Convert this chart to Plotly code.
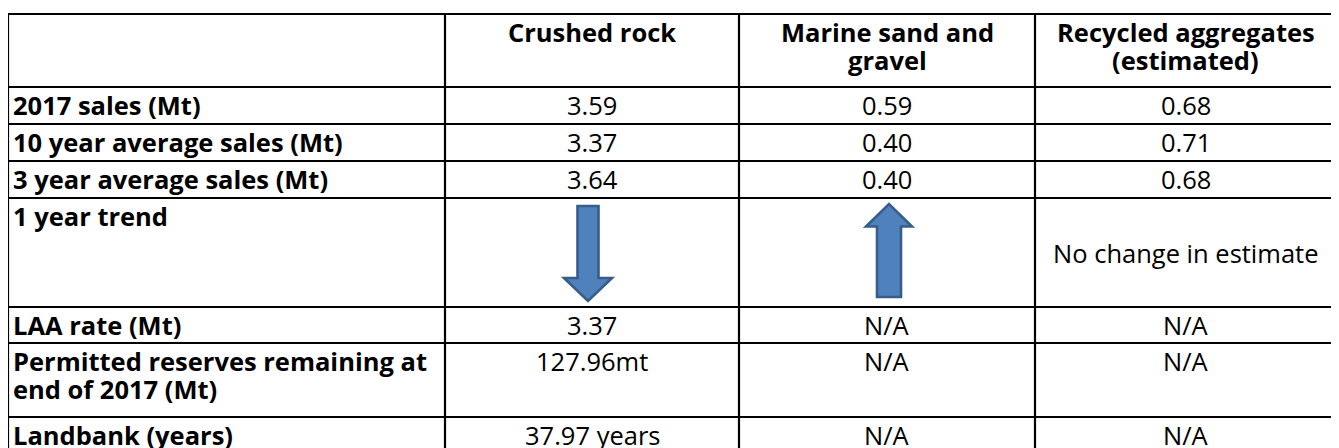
import plotly.graph_objects as go

# ---------------- data ----------------
columns = ["Crushed rock", "Marine sand and<br>gravel", "Recycled aggregates<br>(estimated)"]
row_labels = [
    "2017 sales (Mt)",
    "10 year average sales (Mt)",
    "3 year average sales (Mt)",
    "1 year trend",
    "LAA rate (Mt)",
    "Permitted reserves remaining at<br>end of 2017 (Mt)",
    "Landbank (years)",
]
crushed_rock = ["3.59", "3.37", "3.64", "down", "3.37", "127.96mt", "37.97 years"]
marine_sand_gravel = ["0.59", "0.40", "0.40", "up", "N/A", "N/A", "N/A"]
recycled_aggregates = ["0.68", "0.71", "0.68", "No change in estimate", "N/A", "N/A", "N/A"]

# ---------------- layout constants ----------------
# The page body has an 8px margin, so the figure is offset by 8px;
# axis ranges are expressed in page pixels so that the table lands in place.
PAGE_W, PAGE_H = 1339, 448
OFF = 8
W, H = PAGE_W - OFF, PAGE_H - OFF
col_edges = [8, 445, 739, 1035, 1336]
row_edges = [14, 87, 124, 161, 198, 307, 343, 417, 454]
FONT = "Open Sans, Lato, sans-serif"
FS = 25.5
LINE_GAP = 28
FIRST_OFF = 18
ARROW_FILL = "#4F81BD"
ARROW_LINE = "#385D8A"
GRID = "black"

fig = go.Figure()

shapes = []
for y in row_edges:
    shapes.append(dict(type="line", xref="x", yref="y", x0=col_edges[0] - 1, x1=col_edges[-1] + 1,
                       y0=y, y1=y, line=dict(color=GRID, width=2.2)))
for x in col_edges:
    shapes.append(dict(type="line", xref="x", yref="y", x0=x, x1=x,
                       y0=row_edges[0], y1=row_edges[-1], line=dict(color=GRID, width=2.2)))

annotations = []


def add_text(text, x, y_top, anchor, bold):
    lines = text.split("<br>")
    for i, ln in enumerate(lines):
        annotations.append(dict(
            x=x, y=y_top + FIRST_OFF + i * LINE_GAP, xref="x", yref="y",
            text=f"<b>{ln}</b>" if bold else ln, showarrow=False,
            xanchor=anchor, yanchor="middle", borderpad=0,
            font=dict(family=FONT, size=FS, color="black"),
        ))


def arrow_path(cx, y_start, y_tip, shaft_hw, head_hw, head_len):
    d = 1 if y_tip > y_start else -1
    yb = y_tip - d * head_len
    pts = [
        (cx - shaft_hw, y_start), (cx + shaft_hw, y_start), (cx + shaft_hw, yb),
        (cx + head_hw, yb), (cx, y_tip), (cx - head_hw, yb), (cx - shaft_hw, yb),
    ]
    return "M " + " L ".join(f"{px},{py}" for px, py in pts) + " Z"


col_centers = [(col_edges[i] + col_edges[i + 1]) / 2 for i in range(1, 4)]

for c, name in enumerate(columns):
    add_text(name, col_centers[c], row_edges[0], "center", True)

value_cols = [crushed_rock, marine_sand_gravel, recycled_aggregates]
for r, label in enumerate(row_labels):
    top = row_edges[r + 1]
    bottom = row_edges[r + 2]
    add_text(label, col_edges[0] + 4, top, "left", True)
    for c, vals in enumerate(value_cols):
        v = vals[r]
        cx = col_centers[c]
        if v == "down":
            shapes.append(dict(type="path", xref="x", yref="y",
                               path=arrow_path(cx - 4, top + 8, bottom - 6, 10.5, 24, 23),
                               fillcolor=ARROW_FILL, line=dict(color=ARROW_LINE, width=2.6)))
        elif v == "up":
            shapes.append(dict(type="path", xref="x", yref="y",
                               path=arrow_path(cx + 2, bottom - 10, top + 6, 12, 23, 22.5),
                               fillcolor=ARROW_FILL, line=dict(color=ARROW_LINE, width=2.6)))
        elif r == 3:
            annotations.append(dict(
                x=cx, y=(top + bottom) / 2, xref="x", yref="y", text=v, showarrow=False,
                xanchor="center", yanchor="middle",
                font=dict(family=FONT, size=FS, color="black")))
        else:
            add_text(v, cx, top, "center", False)

fig.update_layout(
    width=W, height=H,
    margin=dict(l=0, r=0, t=0, b=0),
    paper_bgcolor="white", plot_bgcolor="white",
    xaxis=dict(range=[OFF, PAGE_W], visible=False, fixedrange=True),
    yaxis=dict(range=[PAGE_H, OFF], visible=False, fixedrange=True),
    shapes=shapes, annotations=annotations,
    showlegend=False,
)

fig.write_html("out.html")
